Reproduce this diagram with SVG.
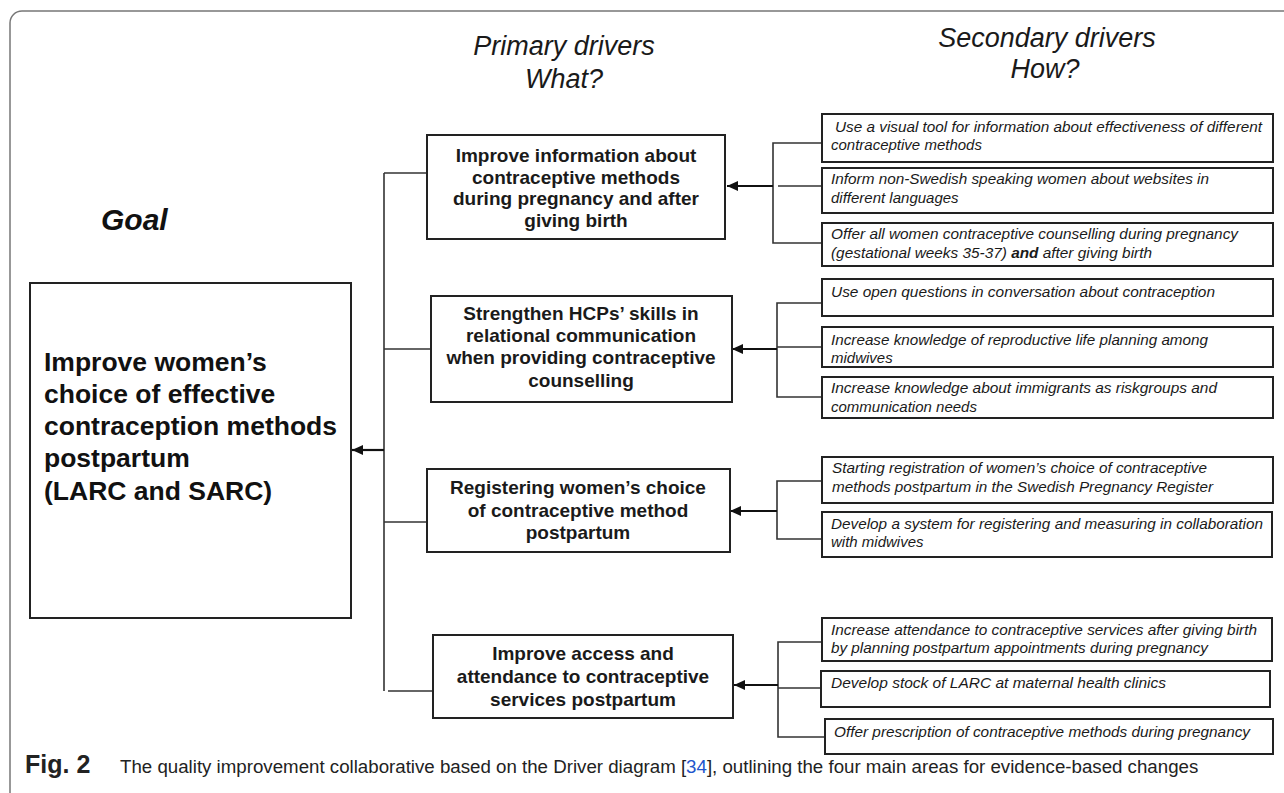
<svg xmlns="http://www.w3.org/2000/svg" width="1284" height="793" viewBox="0 0 1284 793">
<defs>
<marker id="ah" markerUnits="userSpaceOnUse" markerWidth="12" markerHeight="10" refX="11" refY="5" orient="auto">
<path d="M0,0 L11,5 L0,10 z" fill="#111"/>
</marker>
<style>
.box{fill:#fff;stroke:#222;stroke-width:2}
.ln{fill:none;stroke:#333;stroke-width:1.6}
.arr{fill:none;stroke:#111;stroke-width:2.2}
.title{font-family:"Liberation Sans",Arial,sans-serif;font-style:italic;font-size:27px;fill:#1a1a1a;text-anchor:middle}
.pd{font-family:"Liberation Sans",Arial,sans-serif;font-weight:bold;font-size:19px;fill:#1a1a1a;text-anchor:middle}
.sd{font-family:"Liberation Sans",Arial,sans-serif;font-style:italic;font-size:15px;fill:#1a1a1a}
.goal{font-family:"Liberation Sans",Arial,sans-serif;font-weight:bold;font-size:26.5px;fill:#111}
.cap{font-family:"Liberation Sans",Arial,sans-serif;font-size:18.7px;fill:#222}
.fig{font-family:"Liberation Sans",Arial,sans-serif;font-size:25px;font-weight:bold;fill:#222}
.ref{fill:#2255cc}
</style>
</defs>
<rect width="1284" height="793" fill="#fff"/>
<rect x="10" y="11" width="1300" height="800" rx="12" fill="none" stroke="#777" stroke-width="1.5"/>

<text class="title" x="564" y="55">Primary drivers</text>
<text class="title" x="564" y="88">What?</text>
<text class="title" x="1047" y="47">Secondary drivers</text>
<text class="title" x="1045" y="78">How?</text>
<text x="101" y="230" font-family="'Liberation Sans',Arial,sans-serif" font-weight="bold" font-style="italic" font-size="30" fill="#111">Goal</text>

<g id="connectors">
<path class="ln" d="M384,173 V691"/>
<path class="ln" d="M384,173 H427"/>
<path class="ln" d="M384,349 H431"/>
<path class="ln" d="M384,522 H427"/>
<path class="ln" d="M388,691 H433"/>
<path class="arr" d="M384,450 H352" marker-end="url(#ah)"/>
<path class="ln" d="M822,143 H773 V243 H822"/>
<path class="ln" d="M778,186 H822"/>
<path class="arr" d="M773,186 H727" marker-end="url(#ah)" stroke-width="2.6"/>
<path class="ln" d="M822,303 H777 V397 H822"/>
<path class="ln" d="M777,347 H822"/>
<path class="arr" d="M777,349 H732" marker-end="url(#ah)" stroke-width="3"/>
<path class="ln" d="M822,481 H777 V539 H822"/>
<path class="arr" d="M777,511 H730" marker-end="url(#ah)"/>
<path class="ln" d="M822,642 H778 V737 H825"/>
<path class="ln" d="M778,688 H821"/>
<path class="arr" d="M778,685 H734" marker-end="url(#ah)"/>
</g>

<g id="goal">
<rect class="box" x="30" y="283" width="321" height="335"/>
<text class="goal" x="44" y="371">Improve women’s</text>
<text class="goal" x="44" y="403">choice of effective</text>
<text class="goal" x="44" y="435">contraception methods</text>
<text class="goal" x="44" y="467">postpartum</text>
<text class="goal" x="44" y="500">(LARC and SARC)</text>
</g>

<g id="p1">
<rect class="box" x="427" y="135" width="298" height="104"/>
<text class="pd" x="576" y="162">Improve information about</text>
<text class="pd" x="576" y="183.5">contraceptive methods</text>
<text class="pd" x="576" y="205">during pregnancy and after</text>
<text class="pd" x="576" y="226.5">giving birth</text>
</g>
<g id="p2">
<rect class="box" x="431" y="296" width="301" height="106"/>
<text class="pd" x="581" y="320">Strengthen HCPs’ skills in</text>
<text class="pd" x="581" y="342">relational communication</text>
<text class="pd" x="581" y="364">when providing contraceptive</text>
<text class="pd" x="581" y="387">counselling</text>
</g>
<g id="p3">
<rect class="box" x="427" y="469" width="303" height="83"/>
<text class="pd" x="578" y="494">Registering women’s choice</text>
<text class="pd" x="578" y="517">of contraceptive method</text>
<text class="pd" x="578" y="539">postpartum</text>
</g>
<g id="p4">
<rect class="box" x="433" y="635" width="300" height="83"/>
<text class="pd" x="583" y="660">Improve access and</text>
<text class="pd" x="583" y="683">attendance to contraceptive</text>
<text class="pd" x="583" y="706">services postpartum</text>
</g>

<g id="s1">
<rect class="box" x="822" y="114" width="451" height="48"/>
<text class="sd" x="835" y="132" textLength="427" lengthAdjust="spacingAndGlyphs">Use a visual tool for information about effectiveness of different</text>
<text class="sd" x="831" y="150">contraceptive methods</text>
</g>
<g id="s2">
<rect class="box" x="822" y="168" width="451" height="45"/>
<text class="sd" x="831" y="184" textLength="378" lengthAdjust="spacingAndGlyphs">Inform non-Swedish speaking women about websites in</text>
<text class="sd" x="831" y="203">different languages</text>
</g>
<g id="s3">
<rect class="box" x="822" y="223" width="451" height="43"/>
<text class="sd" x="831" y="239" textLength="407" lengthAdjust="spacingAndGlyphs">Offer all women contraceptive counselling during pregnancy</text>
<text class="sd" x="831" y="258" textLength="321" lengthAdjust="spacingAndGlyphs">(gestational weeks 35-37) <tspan font-weight="bold">and</tspan> after giving birth</text>
</g>
<g id="s4">
<rect class="box" x="822" y="279" width="451" height="37"/>
<text class="sd" x="831" y="297" textLength="384" lengthAdjust="spacingAndGlyphs">Use open questions in conversation about contraception</text>
</g>
<g id="s5">
<rect class="box" x="822" y="327" width="451" height="40"/>
<text class="sd" x="831" y="345" textLength="377" lengthAdjust="spacingAndGlyphs">Increase knowledge of reproductive life planning among</text>
<text class="sd" x="831" y="363">midwives</text>
</g>
<g id="s6">
<rect class="box" x="822" y="377" width="451" height="41"/>
<text class="sd" x="831" y="393" textLength="386" lengthAdjust="spacingAndGlyphs">Increase knowledge about immigrants as riskgroups and</text>
<text class="sd" x="831" y="412">communication needs</text>
</g>
<g id="s7">
<rect class="box" x="822" y="457" width="451" height="46"/>
<text class="sd" x="832" y="473" textLength="375" lengthAdjust="spacingAndGlyphs">Starting registration of women’s choice of contraceptive</text>
<text class="sd" x="832" y="492" textLength="381" lengthAdjust="spacingAndGlyphs">methods postpartum in the Swedish Pregnancy Register</text>
</g>
<g id="s8">
<rect class="box" x="822" y="512" width="450" height="45"/>
<text class="sd" x="831" y="529" textLength="432" lengthAdjust="spacingAndGlyphs">Develop a system for registering and measuring in collaboration</text>
<text class="sd" x="831" y="547">with midwives</text>
</g>
<g id="s9">
<rect class="box" x="822" y="618" width="450" height="43"/>
<text class="sd" x="831" y="635" textLength="426" lengthAdjust="spacingAndGlyphs">Increase attendance to contraceptive services after giving birth</text>
<text class="sd" x="831" y="653" textLength="377" lengthAdjust="spacingAndGlyphs">by planning postpartum appointments during pregnancy</text>
</g>
<g id="s10">
<rect class="box" x="821" y="671" width="449" height="36"/>
<text class="sd" x="831" y="688" textLength="335" lengthAdjust="spacingAndGlyphs">Develop stock of LARC at maternal  health clinics</text>
</g>
<g id="s11">
<rect class="box" x="825" y="719" width="448" height="35"/>
<text class="sd" x="834" y="737" textLength="416" lengthAdjust="spacingAndGlyphs">Offer prescription of contraceptive methods during pregnancy</text>
</g>

<g id="caption">
<text class="fig" x="25" y="773">Fig. 2</text>
<text class="cap" x="120" y="773">The quality improvement collaborative based on the Driver diagram [<tspan class="ref">34</tspan>], outlining the four main areas for evidence-based changes</text>
</g>
</svg>
